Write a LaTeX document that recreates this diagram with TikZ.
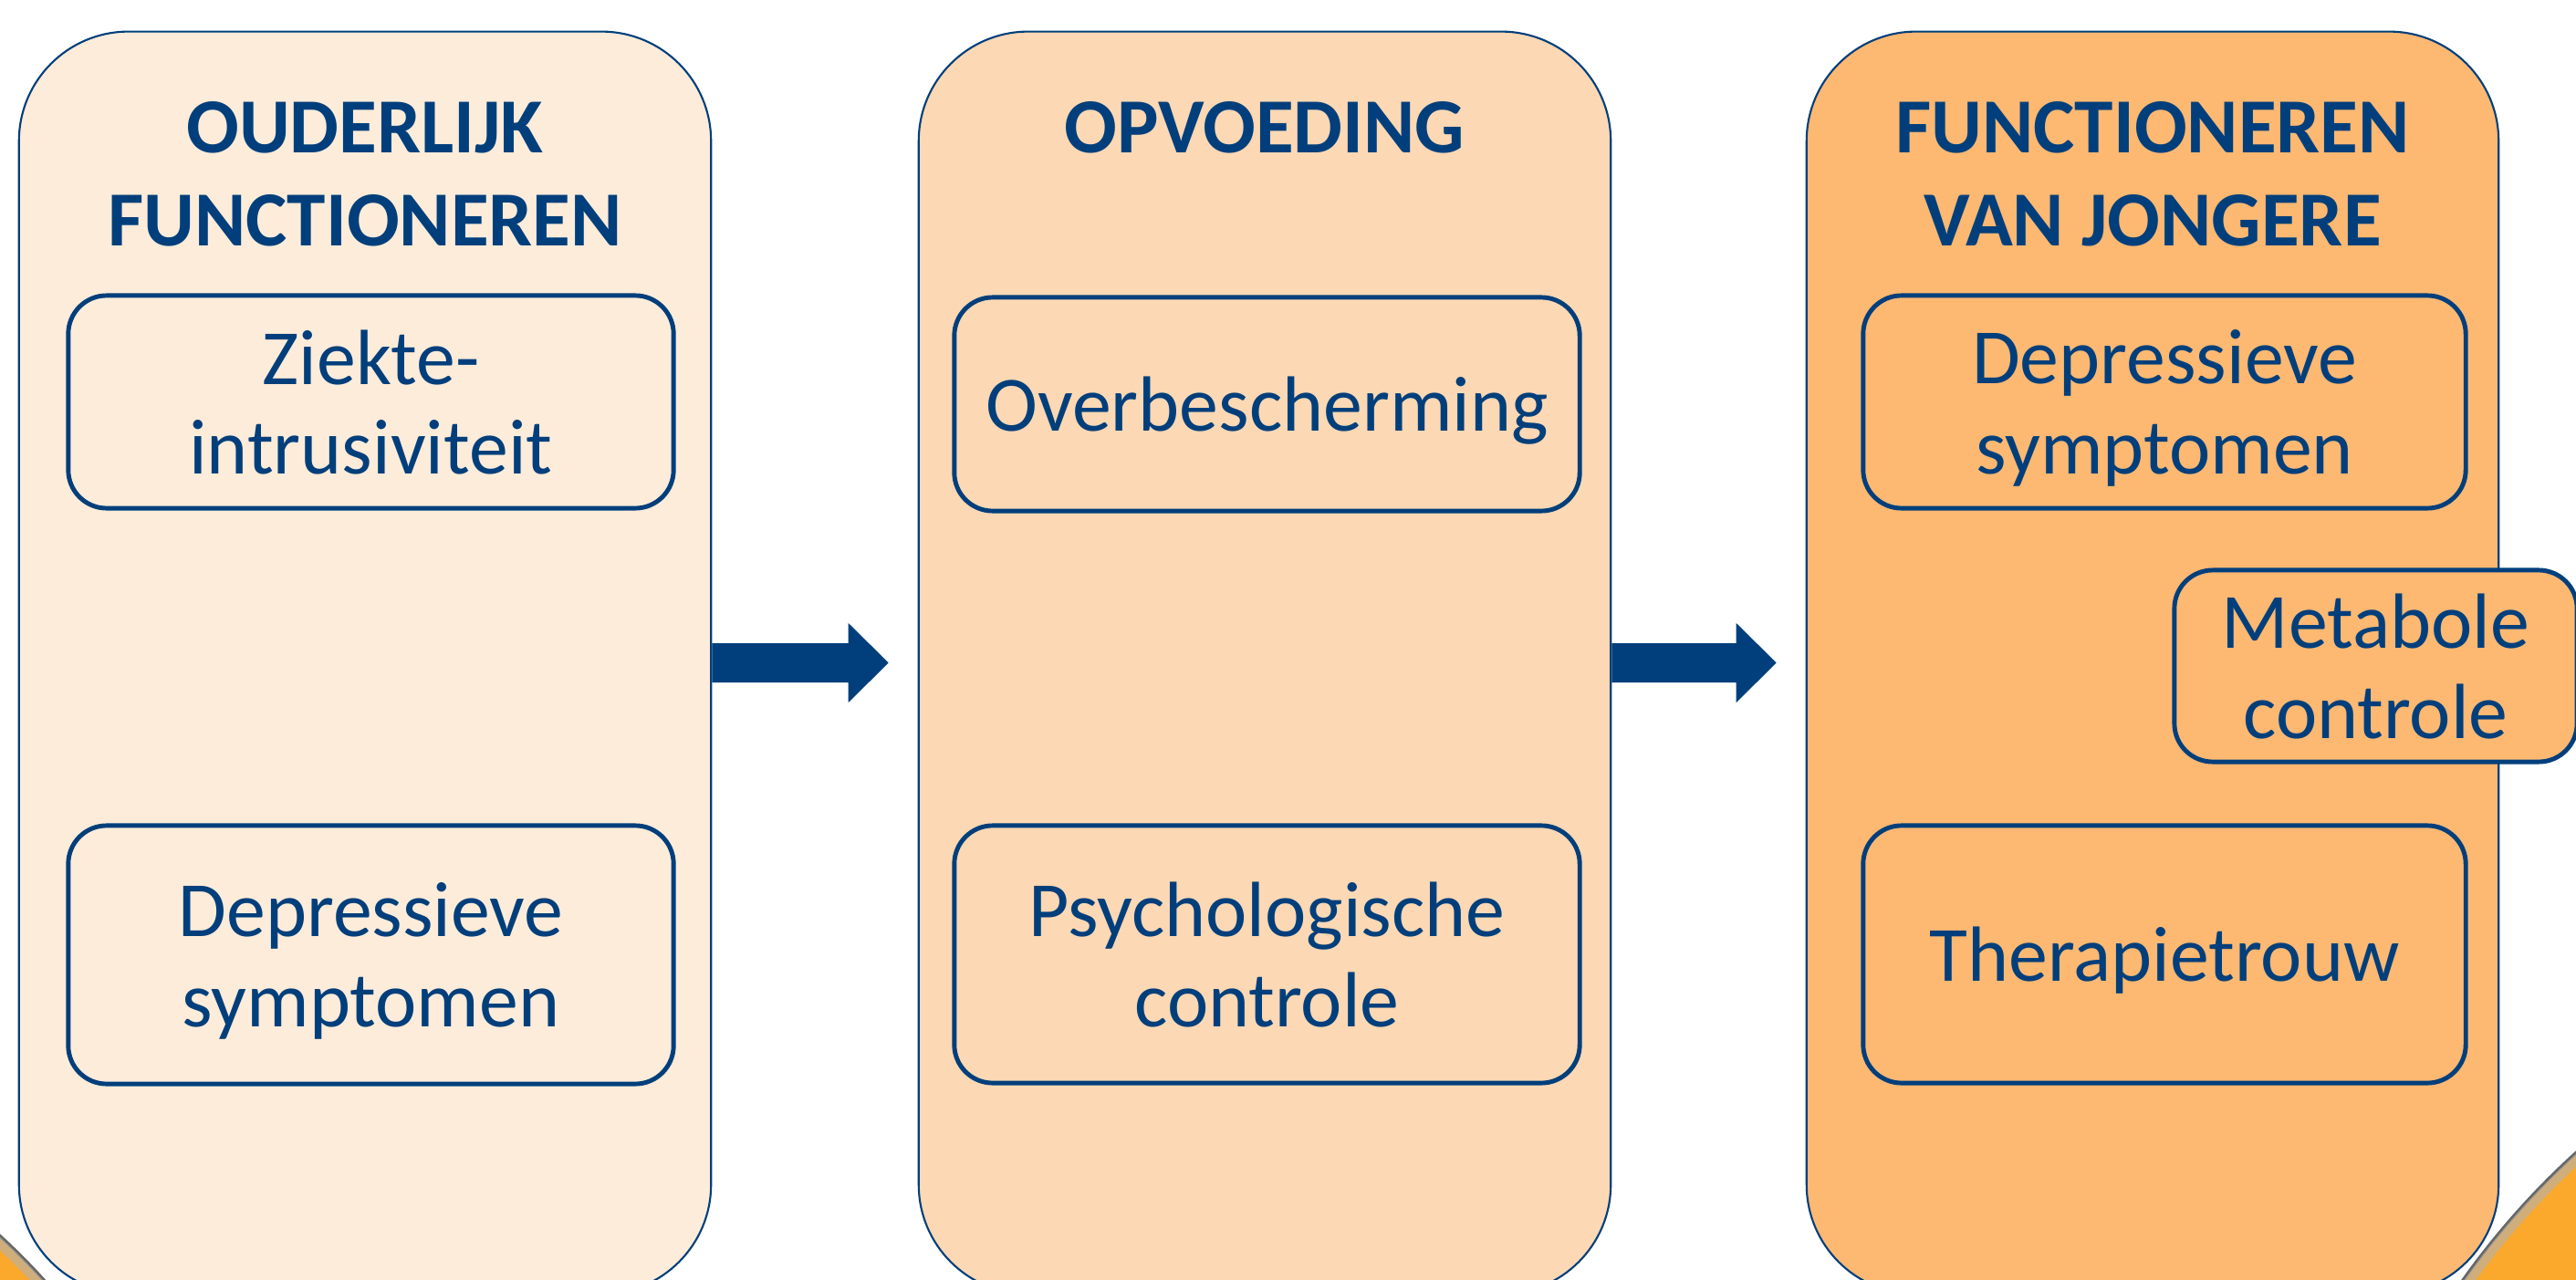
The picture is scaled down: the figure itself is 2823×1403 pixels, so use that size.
\documentclass[tikz,border=0pt]{standalone}
\usepackage{fontspec}
\setmainfont{Carlito}
\usetikzlibrary{calc}
\definecolor{navy}{HTML}{003F7B}
\definecolor{paleorange}{HTML}{FEECDA}
\definecolor{lightorange}{HTML}{FDD8B4}
\definecolor{midorange}{HTML}{FDB872}
\definecolor{deco}{HTML}{FBA92C}
\begin{document}
\begin{tikzpicture}[x=0.01cm,y=-0.01cm,
  column/.style={draw=navy, line width=0.6pt, rounded corners=1.2cm, minimum width=7.58cm, minimum height=13.83cm, inner sep=0pt},
  heading/.style={text=navy, font=\fontsize{24.3}{29}\selectfont\bfseries, align=center, inner sep=0pt},
  factor/.style={draw=navy, line width=1.4pt, rounded corners=0.42cm, text=navy, font=\fontsize{24.4}{28}\selectfont, align=center, inner sep=0pt, text depth=0pt}]
\useasboundingbox (0,0) rectangle (2823,1403);
\clip (0,0) rectangle (2823,1403);
% orange corners of the slide
\fill[deco] (-503,1903) circle (745);
\draw[black!60, line width=1pt] (-503,1903) circle (744);
\draw[black!30, opacity=.6, line width=3pt] (-503,1903) circle (738);
\fill[deco] (3400,1900) circle (860);
\draw[black!60, line width=1pt] (3400,1900) circle (859);
\draw[black!30, opacity=.6, line width=3pt] (3400,1900) circle (853);
% the three columns
\node[column, fill=paleorange] (ouder) at (400,726.5) {};
\node[column, fill=lightorange] (opv) at (1386,726.5) {};
\node[column, fill=midorange] (jong) at (2359,726.5) {};
\node[heading] (ouderkop) at (400,191) {OUDERLIJK\\FUNCTIONEREN};
\node[heading] (opvkop) at (1386,140) {OPVOEDING};
\node[heading] (jongkop) at (2359,191) {FUNCTIONEREN\\VAN JONGERE};
% factors
\node[factor, minimum width=6.63cm, minimum height=2.33cm] (ziekte) at (406.5,440.5) {Ziekte-\\intrusiviteit};
\node[factor, minimum width=6.63cm, minimum height=2.83cm] (depouder) at (406.5,1046.5) {Depressieve\\symptomen};
\node[factor, minimum width=6.85cm, minimum height=2.34cm] (overbesch) at (1388.5,443) {Overbescherming};
\node[factor, minimum width=6.85cm, minimum height=2.82cm] (psycho) at (1388.5,1046) {Psychologische\\controle};
\node[factor, minimum width=6.6cm, minimum height=2.33cm] (depjong) at (2372,440.5) {Depressieve\\symptomen};
\node[factor, minimum width=6.6cm, minimum height=2.82cm] (therapie) at (2372,1046) {Therapietrouw};
\node[factor, minimum width=4.41cm, minimum height=2.1cm, fill=midorange] (metabool) at (2603.5,730) {Metabole\\controle};
% block arrows
\foreach \from/\to in {ouder/opv, opv/jong}
  \fill[navy] ($(\from.east)+(0,-21.5)$) -| ($(\to.west)+(-76,-43.5)$) -- ($(\to.west)+(-32,0)$)
    -- ($(\to.west)+(-76,43.5)$) |- ($(\from.east)+(0,21.5)$) -- cycle;
\end{tikzpicture}
\end{document}
